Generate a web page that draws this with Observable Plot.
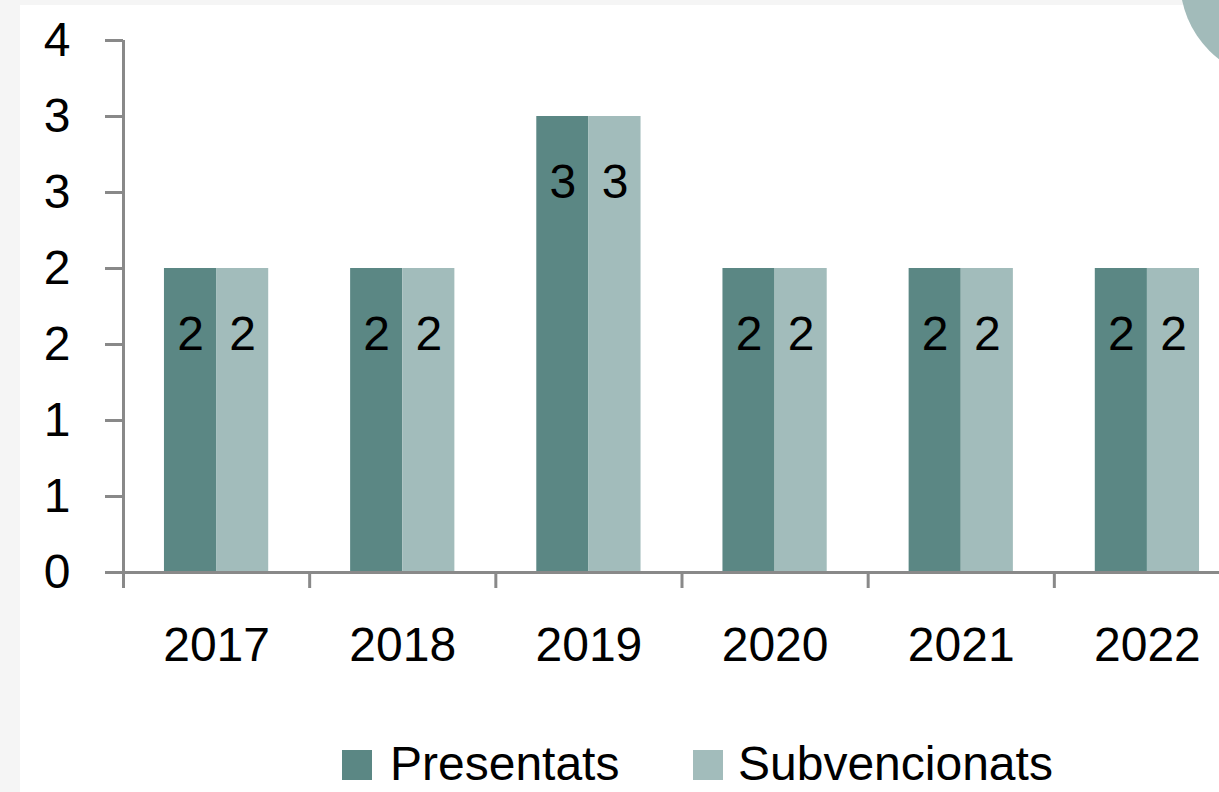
<!DOCTYPE html>
<html>
<head>
<meta charset="utf-8">
<script src="https://cdn.jsdelivr.net/npm/d3@7"></script>
<script src="https://cdn.jsdelivr.net/npm/@observablehq/plot@0.6"></script>
<style>
  html, body { margin: 0; padding: 0; background: #f5f5f5; width: 1219px; height: 792px; overflow: hidden; }
  #wrap { position: relative; width: 1219px; height: 792px; overflow: hidden; }
  #panel { position: absolute; left: 20px; top: 5px; right: 0; bottom: 0; background: #ffffff; }
  #circle { position: absolute; left: 1180px; top: -120px; width: 200px; height: 200px; border-radius: 50%; background: #a2bbba; }
  #chart { position: absolute; left: 0; top: 0; }
  #chart svg { display: block; }
  #legend { position: absolute; left: 0; top: 705px; width: 1219px; height: 87px; font-family: "Liberation Sans", Arial, sans-serif; font-size: 48px; color: #000; }
  .sw { position: absolute; top: 45px; width: 30px; height: 30px; }
  .tx { position: absolute; top: 37px; height: 44px; line-height: 44px; white-space: nowrap; }
</style>
</head>
<body>
<div id="wrap">
  <div id="panel"></div>
  <div id="chart"></div>
  <div id="legend"></div>
  <div id="circle"></div>
</div>
<script>
const years = [2017, 2018, 2019, 2020, 2021, 2022];
const presentats = [2, 2, 3, 2, 2, 2];
const subvencionats = [2, 2, 3, 2, 2, 2];
const seriesNames = ["Presentats", "Subvencionats"];
const seriesColors = ["#5b8784", "#a2bcbb"];
const yTicks = [0, 0.5, 1, 1.5, 2, 2.5, 3, 3.5];

const data = years.map((year, i) => ({year, presentats: presentats[i], subvencionats: subvencionats[i]}));
const half = 0.28;
const boundaries = years.map(y => y - 0.5);
const font = "'Liberation Sans', Arial, sans-serif";
const gray = "#898989";

const chart = Plot.plot({
  width: 1219,
  height: 705,
  marginLeft: 123,
  marginRight: 0,
  marginTop: 40,
  marginBottom: 133,
  style: {background: "transparent", fontFamily: font, color: "#000", overflow: "hidden"},
  x: {type: "linear", domain: [2016.5, 2022.5], range: [123, 1240]},
  y: {domain: [0, 3.5]},
  marks: [
    Plot.rectY(data, {x1: d => d.year - half, x2: d => d.year, y: "presentats", fill: seriesColors[0]}),
    Plot.rectY(data, {x1: d => d.year, x2: d => d.year + half, y: "subvencionats", fill: seriesColors[1]}),
    Plot.text(data, {x: d => d.year - half / 2, y: "presentats", text: d => String(d.presentats), dy: 66, fontSize: 48, fill: "#000"}),
    Plot.text(data, {x: d => d.year + half / 2, y: "subvencionats", text: d => String(d.subvencionats), dy: 66, fontSize: 48, fill: "#000"}),
    Plot.ruleY([0], {stroke: gray, strokeWidth: 3}),
    Plot.ruleX([2016.5], {y1: 0, y2: 3.5, stroke: gray, strokeWidth: 3}),
    Plot.axisY({ticks: yTicks, tickSize: 18, tickPadding: 35, tickFormat: d => String(Math.round(d)), stroke: gray, strokeWidth: 3, fontSize: 48, fill: "#000", label: null}),
    Plot.axisX({ticks: boundaries, tickSize: 16, tickFormat: () => "", stroke: gray, strokeWidth: 3, label: null}),
    Plot.axisX({ticks: years, tickSize: 0, tickPadding: 54, tickFormat: d => String(d), fontSize: 48, fill: "#000", label: null})
  ]
});
document.getElementById("chart").appendChild(chart);

const legend = document.getElementById("legend");
const swatchLefts = [342, 693];
const textLefts = [390, 738];
seriesNames.forEach((name, i) => {
  const sw = document.createElement("div");
  sw.className = "sw";
  sw.style.left = swatchLefts[i] + "px";
  sw.style.background = seriesColors[i];
  const tx = document.createElement("div");
  tx.className = "tx";
  tx.style.left = textLefts[i] + "px";
  tx.textContent = name;
  legend.appendChild(sw);
  legend.appendChild(tx);
});
</script>
</body>
</html>
